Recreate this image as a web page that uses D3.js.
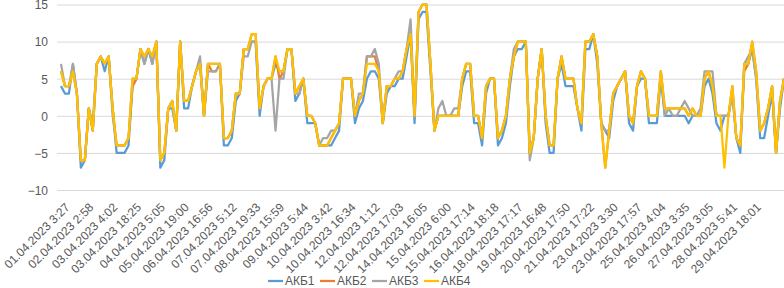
<!DOCTYPE html>
<html>
<head>
<meta charset="utf-8">
<style>
  body, html { margin: 0; padding: 0; background: #fff; }
  #svg { display: block; font-family: "Liberation Sans", Arial, sans-serif; }
</style>
</head>
<body>
<svg id="svg" width="784" height="288"></svg>
<script src="https://d3js.org/d3.v7.min.js"></script>
<script>
  const seriesNames = ["АКБ1", "АКБ2", "АКБ3", "АКБ4"]

  const akb1 = [
    4,3,3,7,3,-7,-6,1,-2,7,8,6,8,1,-5,-5,
    -5,-4,4,5,9,7,9,7,10,-7,-6,1,1,-2,10,1,1,4,6,7,0,7,7,7,
    7,-4,-4,-3,2,3,9,9,10,10,0,4,5,5,7,6,6,9,9,2,3,5,-1,-1,-1,-4,-4,-4,-4,-3,-2,5,5,
    5,-1,1,2,5,6,6,5,-1,3,4,4,5,5,8,11,-1,13,14,14,6,-2,0,0,0,0,
    0,0,4,6,6,-1,-1,-4,3,5,5,-4,-3,-1,4,8,9,9,10,-5,-3,5,9,-1,-5,-5,5,7,4,4,
    4,1,-2,9,9,11,7,-1,-2,-3,2,4,5,6,-1,-2,4,5,5,-1,-1,-1,5,0,0,0,0,
    0,0,-1,0,0,0,4,5,3,-1,-2,0,0,3,-3,-5,7,7,9,5,-3,-3,0,3,-5,1,5
  ]

  const akb2 = [
    6,4,4,6,3,-6,-6,1,-2,7,8,7,8,1,-4,-4,
    -4,-3,4,5,9,8,9,8,10,-6,-5,1,2,-2,10,2,2,4,6,7,0,7,6,6,
    7,-3,-3,-2,3,3,9,9,11,11,1,4,5,5,8,5,6,9,9,3,4,5,0,0,-1,-4,-4,-4,-3,-2,-1,5,5,
    5,0,2,3,8,8,8,6,-1,4,4,5,5,6,9,11,0,14,15,15,7,-2,0,0,0,0,
    0,0,5,7,7,0,0,-3,4,5,5,-3,-2,0,5,8,10,10,10,-5,-3,5,9,0,-4,-4,5,8,5,5,
    5,1,-1,10,10,11,8,-1,-7,-2,3,4,5,6,0,-1,4,6,5,0,0,0,6,1,1,1,1,
    1,1,0,1,0,0,5,6,4,0,0,0,0,4,-3,-4,6,7,10,6,-2,-1,1,4,-5,2,5
  ]

  const akb3 = [
    7,4,4,7,3,-6,-6,1,-1,7,8,7,8,0,-4,-4,
    -4,-3,5,5,9,7,9,7,10,-6,-5,1,2,-2,10,2,2,4,6,8,0,6,6,6,
    7,-3,-3,-2,3,3,8,8,10,10,1,4,5,5,-2,5,5,9,9,3,3,5,0,0,-1,-4,-3,-3,-2,-2,-1,5,5,
    5,0,3,3,8,8,9,7,-1,4,4,5,6,6,9,13,0,14,15,15,7,-2,1,2,0,0,
    1,1,5,7,7,0,0,-3,4,5,5,-3,-2,0,5,9,10,10,10,-6,-3,5,9,0,-4,-4,5,8,5,5,
    5,1,-1,10,10,11,8,-1,-2,-2,3,4,5,6,0,-1,4,6,5,0,0,0,6,0,1,0,0,
    1,2,1,0,0,1,6,6,6,0,0,0,0,3,-3,-4,7,8,9,5,-2,-1,1,4,-5,2,5
  ]

  const akb4 = [
    6,4,4,6,3,-6,-6,1,-2,7,8,7,8,1,-4,-4,
    -4,-3,5,5,9,8,9,8,10,-6,-5,1,2,-2,10,2,2,4,6,7,0,7,7,7,
    7,-3,-3,-2,3,3,9,9,11,11,1,4,5,5,8,6,6,9,9,3,4,5,0,0,-1,-4,-4,-4,-3,-2,-1,5,5,
    5,0,2,3,7,7,7,6,-1,4,4,5,5,6,9,11,0,14,15,15,7,-2,0,0,0,0,
    0,0,5,7,7,0,0,-3,4,5,5,-3,-2,0,5,8,10,10,10,-5,-3,5,9,0,-4,-4,5,8,5,5,
    5,1,-1,10,10,11,8,-1,-7,-2,3,4,5,6,0,-1,4,6,5,0,0,0,6,1,1,1,1,
    1,1,0,1,0,0,5,6,4,0,0,-7,0,4,-3,-4,7,7,10,6,-2,-1,1,4,-5,2,5
  ]

  const yTicks = [-10, -5, 0, 5, 10, 15]

  const tickLabels = [
    "01.04.2023 3:27", "02.04.2023 2:58", "03.04.2023 4:02", "03.04.2023 18:25",
    "04.04.2023 5:05", "05.04.2023 19:00", "06.04.2023 16:56", "07.04.2023 5:12",
    "07.04.2023 19:33", "08.04.2023 15:59", "09.04.2023 5:44", "10.04.2023 3:42",
    "10.04.2023 16:34", "12.04.2023 1:12", "12.04.2023 17:03", "14.04.2023 16:05",
    "15.04.2023 6:00", "15.04.2023 17:14", "16.04.2023 18:18", "18.04.2023 17:17",
    "19.04.2023 16:48", "20.04.2023 17:50", "21.04.2023 17:22", "23.04.2023 3:30",
    "23.04.2023 17:57", "25.04.2023 4:04", "26.04.2023 3:35", "27.04.2023 3:05",
    "28.04.2023 5:41", "29.04.2023 18:01"
  ]

  const series = [akb1, akb2, akb3, akb4]
  const colors = ["#5B9BD5", "#ED7D31", "#A5A5A5", "#FFC000"]
  const labelStep = 6

  const svg = d3.select("#svg")

  const xScale = d3.scalePoint()
    .domain(d3.range(akb1.length))
    .range([61, 784])

  const yScale = d3.scaleLinear()
    .domain([-10, 15])
    .range([190, 4.5])

  // gridlines + y labels
  const yAxis = svg.append("g")
    .attr("transform", "translate(57,0)")
    .call(d3.axisLeft(yScale).tickValues(yTicks).tickSize(-727).tickPadding(9))
  yAxis.select(".domain").remove()
  yAxis.selectAll("line").attr("stroke", "#d9d9d9")
  yAxis.selectAll("text")
    .attr("fill", "#595959")
    .attr("dy", "0.36em")
    .style("font-size", "12px")
    .style("font-family", "'Liberation Sans', Arial, sans-serif")

  // x labels, rotated
  const xAxis = svg.append("g")
    .attr("transform", "translate(0,190)")
    .call(d3.axisBottom(xScale)
      .tickValues(tickLabels.map((d, i) => i * labelStep))
      .tickFormat(i => tickLabels[i / labelStep])
      .tickSize(0))
  xAxis.select(".domain").remove()
  xAxis.selectAll("text")
    .attr("x", 0).attr("y", 0).attr("dy", 0)
    .attr("text-anchor", "end")
    .attr("transform", "translate(9,18) rotate(-45)")
    .attr("fill", "#595959")
    .style("font-size", "12px")
    .style("font-family", "'Liberation Sans', Arial, sans-serif")

  const lineGen = d3.line()
    .x((d, i) => xScale(i))
    .y(d => yScale(d))

  svg.append("defs").append("clipPath").attr("id", "clip")
    .append("rect").attr("x", 0).attr("y", 0).attr("width", 784).attr("height", 196)

  svg.append("g").attr("clip-path", "url(#clip)")
    .selectAll("path")
    .data(series)
    .join("path")
    .attr("d", d => lineGen(d))
    .attr("fill", "none")
    .attr("stroke", (d, i) => colors[i])
    .attr("stroke-width", 2.25)
    .attr("stroke-linejoin", "round")

  // legend
  const legend = svg.append("g").attr("transform", "translate(268,281)")
  const item = legend.selectAll("g")
    .data(seriesNames)
    .join("g")
    .attr("transform", (d, i) => `translate(${i * 52},0)`)
  item.append("line")
    .attr("x1", 0).attr("x2", 15).attr("y1", 0).attr("y2", 0)
    .attr("stroke", (d, i) => colors[i])
    .attr("stroke-width", 2.25)
  item.append("text")
    .attr("x", 17).attr("y", 4)
    .attr("fill", "#595959")
    .style("font-size", "12px")
    .text(d => d)
</script>
</body>
</html>
